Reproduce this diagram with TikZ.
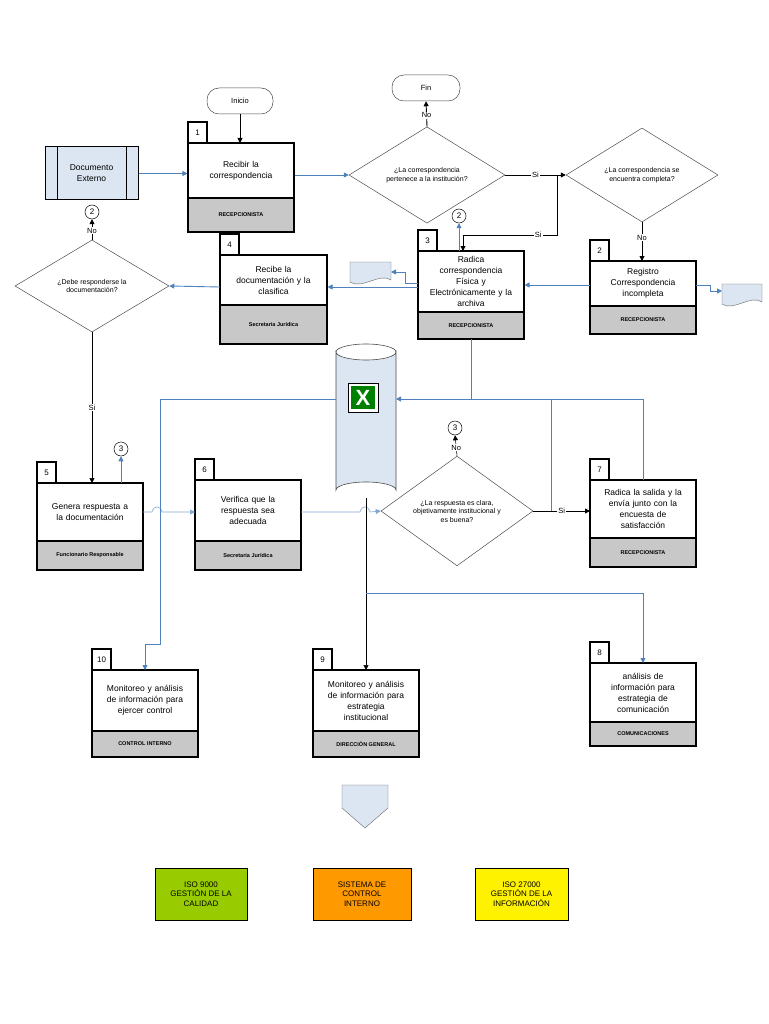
\documentclass[tikz,border=0pt]{standalone}
\usepackage{fontspec}
\setmainfont{Liberation Sans}
\usetikzlibrary{shapes.geometric,arrows.meta}
\definecolor{lb}{HTML}{4F81BD}
\definecolor{pale}{HTML}{DCE6F2}
\definecolor{band}{HTML}{C8C8C8}
\tikzset{
 bl/.style={draw=lb,line width=0.9pt,-{Triangle[length=5pt,width=5pt]}},
 bk/.style={draw=black,line width=0.9pt,-{Triangle[length=5pt,width=5pt]}},
 bkt/.style={draw=black,line width=0.5pt,-{Triangle[length=5pt,width=5pt]}},
 dia/.style={diamond,draw=black!70,line width=0.5pt,inner sep=0pt,align=center,font=\fontsize{7}{8.5}\selectfont},
 term/.style={rounded corners=12pt,draw=black!70,line width=0.5pt,align=center,font=\fontsize{7.5}{8}\selectfont},
 cn/.style={circle,draw=black,line width=0.5pt,inner sep=0pt,minimum size=14pt,font=\fontsize{8}{8}\selectfont,fill=white},
 lbl/.style={fill=white,inner sep=1pt,font=\fontsize{7.5}{8}\selectfont},
 mtext/.style={align=center,font=\fontsize{8.5}{11}\selectfont},
 rtext/.style={font=\bfseries\fontsize{5.5}{6}\selectfont},
}
\newcommand\pbox[9]{%
 \fill[band] (#2,#6) rectangle (#4,#5);
 \node[draw=black,line width=1.1pt,minimum width={(#4-#2)*1pt},minimum height={(#5-#3)*1pt},inner sep=0pt] (#1) at ({(#2+#4)/2},{(#3+#5)/2}) {};
 \draw[line width=1.1pt] (#2,#6) -- (#4,#6);
 \draw[line width=1.1pt,fill=white] (#2,#3) rectangle ({#2+19},{#3-21});
 \node[font=\fontsize{8}{8}\selectfont] at ({#2+9.5},{#3-10.5}) {#7};
 \node[mtext,text width={(#4-#2-4)*1pt}] at ({(#2+#4)/2},{(#3+#6)/2}) {#8};
 \node[rtext] at ({(#2+#4)/2},{(#6+#5)/2}) {#9};
}
\begin{document}
\begin{tikzpicture}[x=1pt,y=-1pt]
\useasboundingbox (0,0) rectangle (768,1024);
\fill[white] (0,0) rectangle (768,1024);
\pbox{p1}{188}{143}{294}{232}{198}{1}{Recibir la\\correspondencia}{RECEPCIONISTA}
\pbox{p4}{220}{255}{327}{344}{305}{4}{Recibe la\\documentación y la\\clasifica}{Secretaria Jurídica}
\pbox{p3}{418}{251}{524}{339}{312}{3}{Radica\\correspondencia\\Física y\\Electrónicamente y la\\archiva}{RECEPCIONISTA}
\pbox{p2}{590}{261}{696}{334}{306}{2}{Registro\\Correspondencia\\incompleta}{RECEPCIONISTA}
\pbox{p5}{37}{483}{143}{570}{541}{5}{Genera respuesta a\\la documentación}{Funcionario Responsable}
\pbox{p6}{195}{480}{301}{570}{541}{6}{Verifica que la\\respuesta sea\\adecuada}{Secretaria Jurídica}
\pbox{p7}{590}{480}{696}{567}{538}{7}{Radica la salida y la\\envía junto con la\\encuesta de\\satisfacción}{RECEPCIONISTA}
\pbox{p10}{92}{670}{198}{757}{731}{10}{Monitoreo y análisis\\de información para\\ejercer control}{CONTROL INTERNO}
\pbox{p9}{313}{670}{419}{757}{731}{9}{Monitoreo y análisis\\de información para\\estrategia\\institucional}{DIRECCIÓN GENERAL}
\pbox{p8}{590}{663}{696}{746}{722}{8}{análisis de\\información para\\estrategia de\\comunicación}{COMUNICACIONES}
\node[term,minimum width=66pt,minimum height=26pt] (ini) at (240,101) {Inicio};
\node[term,minimum width=68pt,minimum height=26pt] (fin) at (426,88) {Fin};
\node[draw=black,line width=1pt,fill=pale,minimum width=93pt,minimum height=53pt,align=center,font=\fontsize{8.5}{11}\selectfont] (doc) at (91.5,173.5) {Documento\\Externo};
\draw[line width=0.8pt] (57,147) -- (57,200) (126,147) -- (126,200);
\node[dia,minimum width=156pt,minimum height=92pt] (d1) at (427,175) {¿La correspondencia\\pertenece a la institución?};
\node[dia,minimum width=152pt,minimum height=94pt] (d2) at (642,175) {¿La correspondencia se\\encuentra completa?};
\node[dia,minimum width=154pt,minimum height=92pt] (d3) at (92,286) {¿Debe responderse la\\documentación?};
\node[dia,minimum width=152pt,minimum height=91pt] (d4) at (457,511) {¿La respuesta es clara,\\objetivamente institucional y\\es buena?};
\node[cn] (c2a) at (92,212) {2};
\node[cn] (c2b) at (459,216) {2};
\node[cn] (c3a) at (121,449) {3};
\node[cn] (c3b) at (455,428) {3};
\draw[draw=black!60,fill=pale] (350,262) -- (391,262) -- (391,280) .. controls (380,272) and (362,290) .. (350,282) -- cycle;
\coordinate (docA) at (391,272);
\draw[draw=black!60,fill=pale] (722,284) -- (762,284) -- (762,302) .. controls (751,294) and (733,312) .. (722,304) -- cycle;
\coordinate (docB) at (722,291);
\draw[draw=black!70,fill=pale,line width=0.6pt] (336,352) -- (336,490) arc[start angle=180,end angle=360,x radius=30,y radius=8] -- (396,352) arc[start angle=0,end angle=180,x radius=30,y radius=8] -- cycle;
\draw[draw=black!70,line width=0.6pt] (336,352) arc[start angle=180,end angle=360,x radius=30,y radius=8];
\node[minimum width=60pt,minimum height=150pt] (db) at (366,421) {};
\draw[fill=white,line width=0.6pt] (348,383) rectangle (378,412);
\fill[green!50!black] (351,386) rectangle (375,409);
\node[text=white,font=\bfseries\fontsize{22}{22}\selectfont,inner sep=0pt] at (363,398) {X};
\draw[draw=black!60,fill=pale] (342,785) -- (388,785) -- (388,808) -- (365,828) -- (342,808) -- cycle;
\node[draw=black,fill={rgb,255:red,153;green,204;blue,0},minimum width=92pt,minimum height=52pt,align=center,font=\fontsize{8}{9.5}\selectfont] (iso9) at (201,894) {ISO 9000\\GESTIÓN DE LA\\CALIDAD};
\node[draw=black,fill={rgb,255:red,255;green,153;blue,0},minimum width=98pt,minimum height=52pt,align=center,font=\fontsize{8}{9.5}\selectfont] (sci) at (362,894) {SISTEMA DE\\CONTROL\\INTERNO};
\node[draw=black,fill=yellow,minimum width=93pt,minimum height=52pt,align=center,font=\fontsize{8}{9.5}\selectfont] (iso27) at (521.5,894) {ISO 27000\\GESTIÓN DE LA\\INFORMACIÓN};
\draw[bl] (doc.east) -- (p1.west|-doc.east);
\draw[bk] (ini.south) -- (240,143);
\draw[bl] (p1.east|-d1.west) -- (d1.west);
\draw[bk] (d1.north) -- node[lbl,pos=0.45]{No} (fin.south);
\draw[bk] (d1.east) -- node[lbl]{Si} (d2.west);
\draw[bk] (557,175) -- (557,235) -- node[lbl,pos=0.2]{Si} (463,235) -- (463,251);
\draw[bk] (d2.south) -- node[lbl,pos=0.4]{No} (642,261);
\draw[bl] (590,285) -- (p3.east|-0,285);
\draw[bl] (696,285) -- (710,285) -- (710,291) -- (docB);
\draw[bl] (459,251) -- (c2b.south);
\draw[bl] (418,283) -- (405,283) -- (405,272) -- (docA);
\draw[bl] (418,287) -- (p4.east|-0,287);
\draw[bl] (220,287) -- (d3.east);
\draw[bkt] (d3.north) -- node[lbl,pos=0.45]{No} (c2a.south);
\draw[bkt] (d3.south) -- node[lbl]{Si} (92,483);
\draw[bl] (121,483) -- (c3a.south);
\draw[bkt] (d4.north) -- node[lbl,pos=0.4]{No} (c3b.south);
\draw[bk] (d4.east) -- node[lbl,pos=0.5]{Si} (590,511);
\draw[draw=lb!70,line width=0.6pt,-{Triangle[length=5pt,width=5pt]}] (143,512) -- (152,512) .. controls (154,505) and (160,505) .. (162,512) -- (195,512);
\draw[draw=lb!70,line width=0.6pt,-{Triangle[length=5pt,width=5pt]}] (301,512) -- (360,512) .. controls (362,505) and (368,505) .. (370,512) -- (d4.west);
\draw[draw=lb,line width=0.9pt] (471,339) -- (471,399);
\draw[draw=lb,line width=0.9pt] (551,511) -- (551,399);
\draw[bl] (643,480) -- (643,399) -- (396,399);
\draw[bl] (336,399) -- (160,399) -- (160,644) -- (145,644) -- (145,670);
\draw[bkt] (366,498) -- (366,670);
\draw[bl] (366,593) -- (643,593) -- (643,663);
\end{tikzpicture}
\end{document}
